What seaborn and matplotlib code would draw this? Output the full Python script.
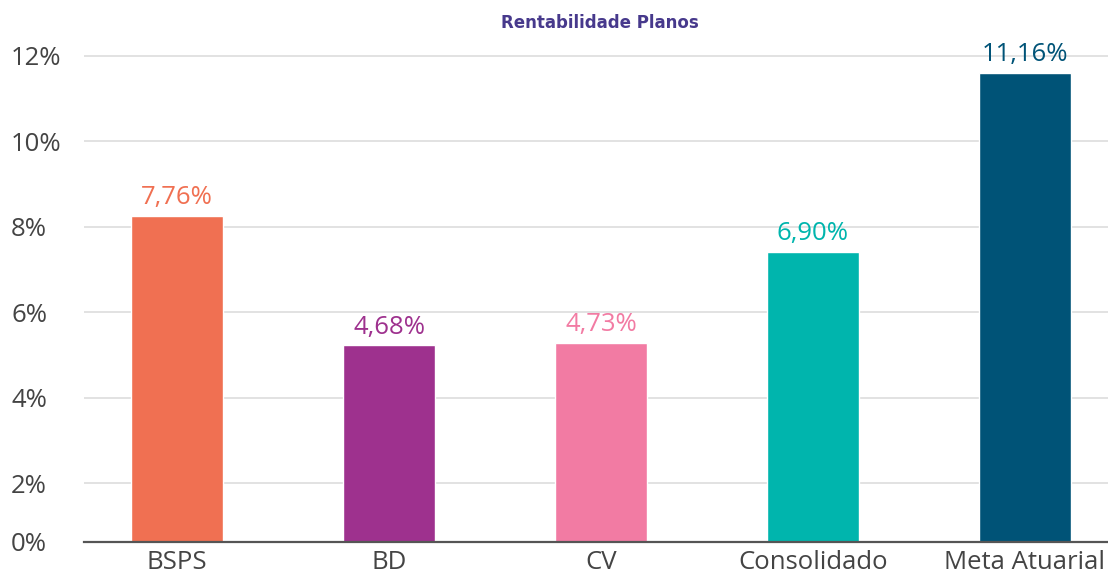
import matplotlib
matplotlib.use("Agg")
import matplotlib.pyplot as plt
import seaborn as sns

# data
planos = ["BSPS", "BD", "CV", "Consolidado", "Meta Atuarial"]
rentabilidade = [7.76, 4.68, 4.73, 6.90, 11.16]
cores = ["#F07052", "#9E318E", "#F27BA3", "#00B5AD", "#005377"]
tick_pct = [0, 2, 4, 6, 8, 10, 12]

sns.set_style("white")
plt.rcParams["font.family"] = ["Open Sans", "DejaVu Sans"]

fig = plt.figure(figsize=(11.08, 5.76), dpi=100)
ax = fig.add_axes([84 / 1108, (576 - 541.7) / 576, 1 - 84 / 1108, (541.7 - 30) / 576])

sns.barplot(x=planos, y=rentabilidade, hue=planos, palette=cores,
            legend=False, width=0.434, saturation=1, ax=ax)

for cont, cor in zip(ax.containers, cores):
    ax.bar_label(cont, labels=[f"{v:.2f}%".replace(".", ",") for v in cont.datavalues],
                 padding=4, color=cor, fontsize=18.5)

# the original chart's gridlines sit slightly off from the bar scale
px_per_unit = 42.0
grid_step = 85.46 / 2 / px_per_unit
grid_off = (568.5 - 541.7) / px_per_unit
pos = [0 if t == 0 else t * grid_step - grid_off for t in tick_pct]
ax.set_yticks(pos)
ax.set_yticklabels([f"{t}%" for t in tick_pct])
ax.set_ylim(0, (541.7 - 30) / px_per_unit)
ax.set_xlim(-0.439, 4.392)

ax.grid(axis="y", color="#DDDDDD", linewidth=1.2)
ax.set_axisbelow(True)
for s in ["top", "right", "left"]:
    ax.spines[s].set_visible(False)
ax.spines["bottom"].set_color("#555555")
ax.spines["bottom"].set_linewidth(1.6)

ax.tick_params(axis="y", length=0, pad=52.5, labelsize=18.5, labelcolor="#444444")
for lab in ax.get_yticklabels():
    lab.set_horizontalalignment("left")
ax.tick_params(axis="x", length=0, pad=6, labelsize=18.5, labelcolor="#444444")
ax.set_xlabel("")
ax.set_ylabel("")

fig.text(600 / 1108, 1 - 22.5 / 576, "Rentabilidade Planos", ha="center", va="center",
         fontsize=12, fontweight="bold", color="#47398C", family="DejaVu Sans")

fig.savefig("out.png", dpi=100)
